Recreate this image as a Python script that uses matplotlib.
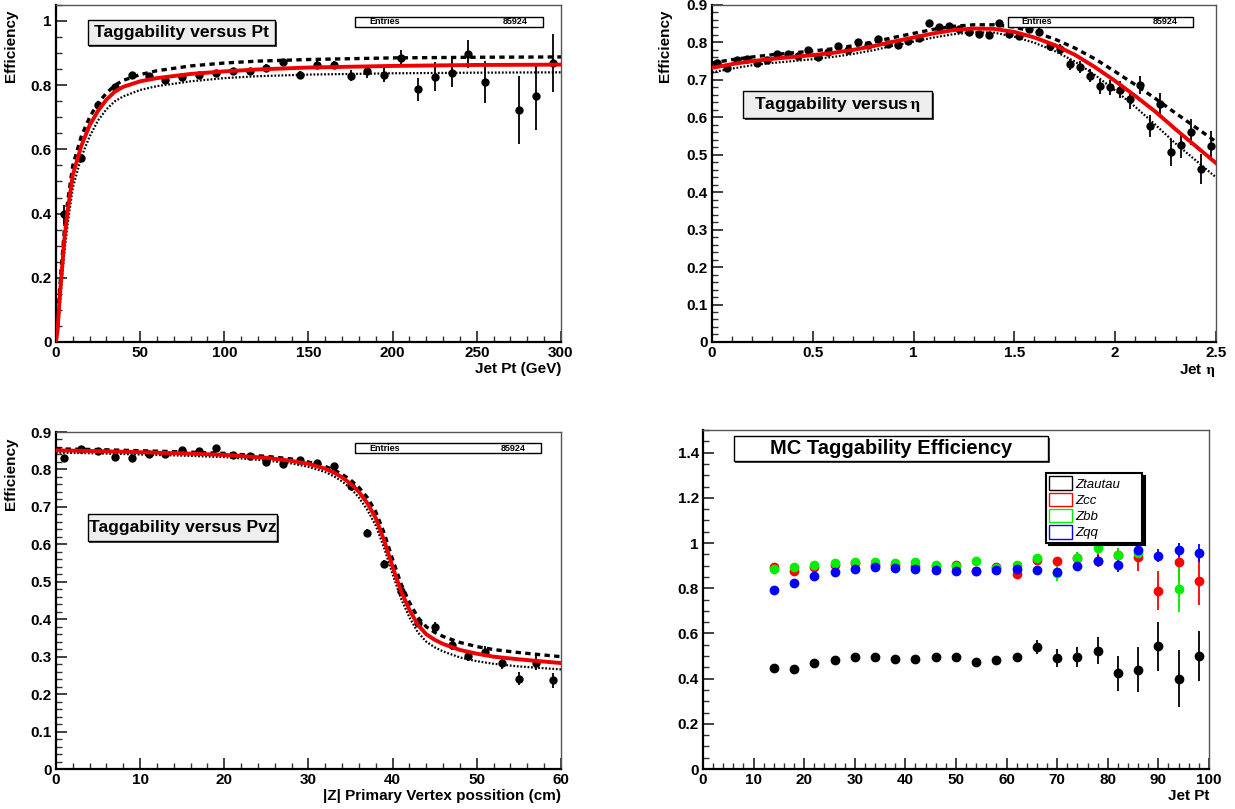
import matplotlib
matplotlib.use("Agg")
import matplotlib.pyplot as plt
from matplotlib.patches import Rectangle, Patch
from matplotlib.ticker import MultipleLocator, FuncFormatter

nan = float("nan")

# ---- Taggability vs Pt ----
pt_x = [5, 15, 25, 35, 45, 55, 65, 75, 85, 95, 105, 115, 125, 135, 145, 155, 165,
        175, 185, 195, 205, 215, 225, 235, 245, 255, 275, 285, 295]
pt_eff = [0.398, 0.572, 0.738, 0.795, 0.831, 0.828, 0.816, 0.827, 0.833, 0.839, 0.845,
          0.843, 0.855, 0.872, 0.833, 0.862, 0.862, 0.830, 0.843, 0.833, 0.885, 0.787,
          0.827, 0.839, 0.897, 0.811, 0.723, 0.765, 0.868]
pt_err = [0.03, 0.012, 0.01, 0.008, 0.008, 0.008, 0.008, 0.008, 0.008, 0.008, 0.009,
          0.009, 0.01, 0.01, 0.011, 0.012, 0.013, 0.018, 0.02, 0.022, 0.025, 0.035,
          0.045, 0.045, 0.045, 0.065, 0.105, 0.105, 0.09]
pt_fx = [0, 1, 2, 3, 5, 7, 10, 15, 20, 25, 30, 35, 40, 50, 60, 80, 100, 120, 150, 200, 250, 300]
pt_fit = [0, 0.04, 0.12, 0.19, 0.32, 0.41, 0.52, 0.61, 0.675, 0.72, 0.755, 0.78, 0.795,
          0.812, 0.822, 0.835, 0.843, 0.849, 0.855, 0.86, 0.863, 0.864]
pt_hi = [0, 0.07, 0.15, 0.22, 0.35, 0.44, 0.55, 0.64, 0.70, 0.745, 0.775, 0.80, 0.815,
         0.833, 0.845, 0.86, 0.869, 0.875, 0.88, 0.885, 0.887, 0.888]
pt_lo = [0, 0.02, 0.09, 0.16, 0.28, 0.37, 0.48, 0.575, 0.64, 0.69, 0.725, 0.75, 0.765,
         0.785, 0.797, 0.812, 0.822, 0.828, 0.833, 0.837, 0.839, 0.84]

# ---- Taggability vs eta ----
eta_x = [0.025, 0.075, 0.125, 0.175, 0.225, 0.275, 0.325, 0.375, 0.425, 0.475,
         0.525, 0.575, 0.625, 0.675, 0.725, 0.775, 0.825, 0.875, 0.925, 0.975,
         1.025, 1.075, 1.125, 1.175, 1.225, 1.275, 1.325, 1.375, 1.425, 1.475,
         1.525, 1.575, 1.625, 1.675, 1.725, 1.775, 1.825, 1.875, 1.925, 1.975,
         2.025, 2.075, 2.125, 2.175, 2.225, 2.275, 2.325, 2.375, 2.425, 2.475]
eta_eff = [0.745, 0.732, 0.752, 0.756, 0.746, 0.753, 0.768, 0.770, 0.764, 0.780,
           0.760, 0.773, 0.790, 0.780, 0.801, 0.793, 0.809, 0.795, 0.792, 0.804,
           0.813, 0.851, 0.841, 0.843, 0.837, 0.829, 0.822, 0.819, 0.852, 0.822,
           0.817, 0.836, 0.827, 0.790, 0.782, 0.741, 0.733, 0.711, 0.683, 0.680,
           0.674, 0.648, 0.686, 0.576, 0.635, 0.506, 0.527, 0.560, 0.461, 0.523]
eta_err = [0.006, 0.006, 0.006, 0.006, 0.006, 0.006, 0.006, 0.006, 0.006, 0.006,
           0.006, 0.006, 0.006, 0.006, 0.006, 0.006, 0.006, 0.006, 0.007, 0.007,
           0.007, 0.007, 0.007, 0.007, 0.008, 0.008, 0.008, 0.008, 0.009, 0.009,
           0.01, 0.01, 0.011, 0.012, 0.013, 0.015, 0.016, 0.018, 0.02, 0.02,
           0.022, 0.025, 0.025, 0.03, 0.03, 0.035, 0.035, 0.035, 0.04, 0.04]
eta_fx = [0, 0.1, 0.2, 0.3, 0.4, 0.5, 0.6, 0.7, 0.8, 0.9, 1.0, 1.1, 1.2, 1.3, 1.4,
          1.5, 1.6, 1.7, 1.8, 1.9, 2.0, 2.1, 2.2, 2.3, 2.4, 2.5]
eta_fit = [0.732, 0.742, 0.750, 0.756, 0.761, 0.766, 0.772, 0.780, 0.790, 0.802, 0.813,
           0.824, 0.833, 0.837, 0.836, 0.828, 0.813, 0.793, 0.767, 0.734, 0.697, 0.657,
           0.615, 0.568, 0.523, 0.478]
eta_hi = [0.745, 0.754, 0.761, 0.767, 0.772, 0.777, 0.783, 0.791, 0.801, 0.813, 0.824,
          0.835, 0.843, 0.847, 0.847, 0.841, 0.827, 0.809, 0.785, 0.756, 0.722, 0.687,
          0.650, 0.611, 0.573, 0.535]
eta_lo = [0.720, 0.730, 0.739, 0.745, 0.750, 0.755, 0.761, 0.769, 0.779, 0.791, 0.802,
          0.813, 0.822, 0.827, 0.826, 0.815, 0.799, 0.777, 0.749, 0.713, 0.672, 0.628,
          0.580, 0.530, 0.485, 0.440]

# ---- Taggability vs Pvz ----
pvz_x = [1, 3, 5, 7, 9, 11, 13, 15, 17, 19, 21, 23, 25, 27, 29, 31, 33, 35, 37, 39,
         41, 43, 45, 47, 49, 51, 53, 55, 57, 59]
pvz_eff = [0.830, 0.855, 0.848, 0.834, 0.831, 0.841, 0.842, 0.852, 0.849, 0.858,
           0.839, 0.837, 0.821, 0.814, 0.825, 0.816, 0.808, 0.755, 0.631, 0.548,
           0.476, 0.391, 0.378, 0.332, 0.303, 0.313, 0.283, 0.241, 0.284, 0.237]
pvz_err = [0.006, 0.005, 0.005, 0.005, 0.005, 0.005, 0.005, 0.005, 0.005, 0.005,
           0.005, 0.005, 0.006, 0.006, 0.006, 0.007, 0.007, 0.008, 0.01, 0.01,
           0.012, 0.012, 0.015, 0.013, 0.015, 0.015, 0.016, 0.017, 0.02, 0.02]
pvz_fx = [0, 5, 10, 15, 20, 25, 28, 30, 32, 33, 34, 35, 36, 37, 38, 39, 40, 41, 42, 43,
          44, 45, 46, 48, 50, 52, 55, 60]
pvz_fit = [0.851, 0.849, 0.846, 0.843, 0.839, 0.831, 0.823, 0.815, 0.802, 0.792, 0.779,
           0.762, 0.74, 0.71, 0.67, 0.61, 0.54, 0.475, 0.425, 0.385, 0.36, 0.345, 0.334,
           0.318, 0.308, 0.30, 0.293, 0.283]
pvz_hi = [0.855, 0.853, 0.85, 0.847, 0.843, 0.835, 0.828, 0.82, 0.808, 0.799, 0.787,
          0.772, 0.752, 0.725, 0.687, 0.63, 0.56, 0.495, 0.445, 0.405, 0.38, 0.365,
          0.354, 0.338, 0.327, 0.319, 0.311, 0.300]
pvz_lo = [0.845, 0.843, 0.84, 0.837, 0.833, 0.824, 0.816, 0.807, 0.793, 0.782, 0.768,
          0.75, 0.725, 0.692, 0.65, 0.59, 0.52, 0.455, 0.405, 0.365, 0.34, 0.325, 0.314,
          0.298, 0.288, 0.281, 0.274, 0.266]

# ---- MC taggability per sample ----
mc_x = [14, 18, 22, 26, 30, 34, 38, 42, 46, 50, 54, 58, 62, 66, 70, 74, 78, 82, 86, 90, 94, 98]
ztautau = [0.447, 0.443, 0.468, 0.482, 0.497, 0.496, 0.488, 0.488, 0.494, 0.494, 0.475,
           0.481, 0.494, 0.540, 0.490, 0.496, 0.524, 0.424, 0.440, 0.544, 0.400, 0.499]
ztautau_err = [0.012, 0.01, 0.01, 0.01, 0.01, 0.01, 0.01, 0.01, 0.012, 0.012, 0.013,
               0.015, 0.02, 0.03, 0.04, 0.045, 0.06, 0.078, 0.1, 0.108, 0.125, 0.11]
zcc = [0.892, 0.875, 0.892, 0.901, 0.912, 0.905, 0.904, 0.897, 0.897, 0.903, 0.876,
       0.895, 0.861, 0.923, 0.919, 0.934, 0.922, 0.945, 0.937, 0.790, 0.914, 0.830]
zcc_err = [0.008, 0.008, 0.008, 0.008, 0.008, 0.008, 0.008, 0.009, 0.01, 0.01, 0.012,
           0.013, 0.015, 0.018, 0.02, 0.025, 0.03, 0.035, 0.06, 0.085, 0.08, 0.105]
zbb = [0.886, 0.894, 0.904, 0.912, 0.916, 0.914, 0.912, 0.916, 0.904, 0.900, 0.920,
       0.891, 0.903, 0.935, 0.867, 0.934, 0.976, 0.947, 0.956, nan, 0.796, nan]
zbb_err = [0.008, 0.008, 0.008, 0.008, 0.008, 0.008, 0.008, 0.008, 0.009, 0.01, 0.01,
           0.012, 0.014, 0.015, 0.035, 0.025, 0.025, 0.03, 0.035, nan, 0.1, nan]
zqq = [0.794, 0.823, 0.855, 0.872, 0.886, 0.892, 0.888, 0.883, 0.879, 0.876, 0.878,
       0.879, 0.886, 0.882, 0.870, 0.900, 0.922, 0.903, 0.971, 0.944, 0.969, 0.956]
zqq_err = [0.008, 0.008, 0.008, 0.008, 0.008, 0.008, 0.008, 0.008, 0.008, 0.009, 0.01,
           0.01, 0.012, 0.014, 0.02, 0.02, 0.025, 0.03, 0.03, 0.03, 0.03, 0.04]
samples = ["Ztautau", "Zcc", "Zbb", "Zqq"]
sample_colors = ["black", "#ff0000", "#00ee00", "#0000ff"]

plt.rcParams['font.family'] = ['Liberation Sans', 'DejaVu Sans']
plt.rcParams['font.weight'] = 'bold'
plt.rcParams['axes.labelweight'] = 'bold'
plt.rcParams['mathtext.fontset'] = 'stix'

fig = plt.figure(figsize=(12.35, 8.09), dpi=100)
ax1 = fig.add_axes([0.0453, 0.5773, 0.4089, 0.4166])
ax2 = fig.add_axes([0.5765, 0.5773, 0.408, 0.4166])
ax3 = fig.add_axes([0.0453, 0.0494, 0.4089, 0.4166])
ax4 = fig.add_axes([0.5692, 0.0494, 0.4097, 0.419])

fmt = FuncFormatter(lambda v, p: f"{v:g}")


def style(ax, xmaj, xmin, ymaj, ymin):
    ax.xaxis.set_major_locator(MultipleLocator(xmaj))
    ax.xaxis.set_minor_locator(MultipleLocator(xmin))
    ax.yaxis.set_major_locator(MultipleLocator(ymaj))
    ax.yaxis.set_minor_locator(MultipleLocator(ymin))
    ax.xaxis.set_major_formatter(fmt)
    ax.yaxis.set_major_formatter(fmt)
    ax.tick_params(which='both', direction='in', top=False, right=False,
                   labelsize=11, pad=3, color='#333333')
    ax.tick_params(which='major', length=8, width=1.3)
    ax.tick_params(which='minor', length=4, width=1)
    for s in ['left', 'bottom']:
        ax.spines[s].set_linewidth(1.6)
    for s in ['top', 'right']:
        ax.spines[s].set_linewidth(1.0)
        ax.spines[s].set_color('#555555')


def stats(ax, x0, x1, y0, y1):
    ax.add_patch(Rectangle((x0, y0), x1 - x0, y1 - y0, transform=ax.transAxes,
                           fc='white', ec='black', lw=1, zorder=5))
    ax.text(x0 + 0.028, (y0 + y1) / 2, "Entries", transform=ax.transAxes, fontsize=6.5,
            ha='left', va='center', zorder=6)
    ax.text(x1 - 0.03, (y0 + y1) / 2, "85924", transform=ax.transAxes, fontsize=6.5,
            ha='right', va='center', zorder=6)


def title_box(ax, x0, x1, y0, y1, text, fc='#eeeeee', fs=12.6):
    ax.add_patch(Rectangle((x0 + 0.003, y0 - 0.005), x1 - x0, y1 - y0,
                           transform=ax.transAxes, fc='#444444', ec='none', zorder=5))
    ax.add_patch(Rectangle((x0, y0), x1 - x0, y1 - y0, transform=ax.transAxes,
                           fc=fc, ec='black', lw=1, zorder=6))
    ax.text((x0 + x1) / 2, (y0 + y1) / 2, text, transform=ax.transAxes, fontsize=fs,
            ha='center', va='center', zorder=7)


def fit_lines(ax, fx, fit, hi, lo):
    ax.plot(fx, hi, color='black', lw=2.4, ls=(0, (1.6, 1.3)), zorder=3)
    ax.plot(fx, lo, color='black', lw=1.6, ls=(0, (0.8, 0.8)), zorder=3)
    ax.plot(fx, fit, color='#ee0000', lw=2.8, zorder=4)


def points(ax, x, y, e, color='black', ms=5):
    ax.errorbar(x, y, yerr=e, fmt='o', color=color, ms=ms, elinewidth=1.3,
                capsize=0, zorder=2)


# panel 1
points(ax1, pt_x, pt_eff, pt_err)
fit_lines(ax1, pt_fx, pt_fit, pt_hi, pt_lo)
ax1.set_xlim(0, 300)
ax1.set_ylim(0, 1.05)
style(ax1, 50, 10, 0.2, 0.05)
stats(ax1, 0.592, 0.964, 0.935, 0.964)
title_box(ax1, 0.063, 0.434, 0.881, 0.955, "Taggability versus Pt")
ax1.set_xlabel("Jet Pt (GeV)", fontsize=11, loc='right')
ax1.xaxis.set_label_coords(1.0, -0.06)
ax1.set_ylabel("Efficiency", fontsize=11, loc='top')
ax1.yaxis.set_label_coords(-0.075, 0.985)

# panel 2
points(ax2, eta_x, eta_eff, eta_err)
fit_lines(ax2, eta_fx, eta_fit, eta_hi, eta_lo)
ax2.set_xlim(0, 2.5)
ax2.set_ylim(0, 0.9)
style(ax2, 0.5, 0.1, 0.1, 0.02)
stats(ax2, 0.587, 0.954, 0.935, 0.964)
title_box(ax2, 0.062, 0.437, 0.665, 0.745, "Taggability versus" + r"$\,\mathrm{\eta}$")
ax2.set_xlabel("Jet " + r"$\mathrm{\eta}$", fontsize=11, loc='right')
ax2.xaxis.set_label_coords(1.0, -0.06)
ax2.set_ylabel("Efficiency", fontsize=11, loc='top')
ax2.yaxis.set_label_coords(-0.08, 0.985)

# panel 3
points(ax3, pvz_x, pvz_eff, pvz_err)
fit_lines(ax3, pvz_fx, pvz_fit, pvz_hi, pvz_lo)
ax3.set_xlim(0, 60)
ax3.set_ylim(0, 0.9)
style(ax3, 10, 2, 0.1, 0.02)
stats(ax3, 0.592, 0.96, 0.938, 0.967)
title_box(ax3, 0.063, 0.438, 0.677, 0.757, "Taggability versus Pvz")
ax3.set_xlabel("|Z| Primary Vertex possition (cm)", fontsize=11, loc='right')
ax3.xaxis.set_label_coords(1.0, -0.06)
ax3.set_ylabel("Efficiency", fontsize=11, loc='top')
ax3.yaxis.set_label_coords(-0.075, 0.985)

# panel 4
series = [ztautau, zcc, zbb, zqq]
errors = [ztautau_err, zcc_err, zbb_err, zqq_err]
for y, e, c in zip(series, errors, sample_colors):
    points(ax4, mc_x, y, e, color=c, ms=6)
ax4.set_xlim(0, 100)
ax4.set_ylim(0, 1.5)
style(ax4, 10, 2, 0.2, 0.05)
title_box(ax4, 0.061, 0.682, 0.909, 0.982, "MC Taggability Efficiency", fc='white', fs=14.5)
ax4.set_xlabel("Jet Pt", fontsize=11, loc='right')
ax4.xaxis.set_label_coords(1.0, -0.06)
handles = [Patch(facecolor='white', edgecolor=c, lw=1) for c in sample_colors]
leg = ax4.legend(handles, samples, loc='upper left', mode='expand',
                 bbox_to_anchor=(0.678, 0.696, 0.19, 0.177),
                 prop={'style': 'italic', 'weight': 'normal', 'size': 9.5},
                 fancybox=False, framealpha=1, edgecolor='black', borderpad=0.25,
                 labelspacing=0.15, handlelength=1.7, handleheight=1.2,
                 handletextpad=0.3, borderaxespad=0,
                 shadow={'color': 'black', 'alpha': 1})
leg.get_frame().set_linewidth(1.5)
leg.set_zorder(10)

fig.savefig("out.png", dpi=100)
